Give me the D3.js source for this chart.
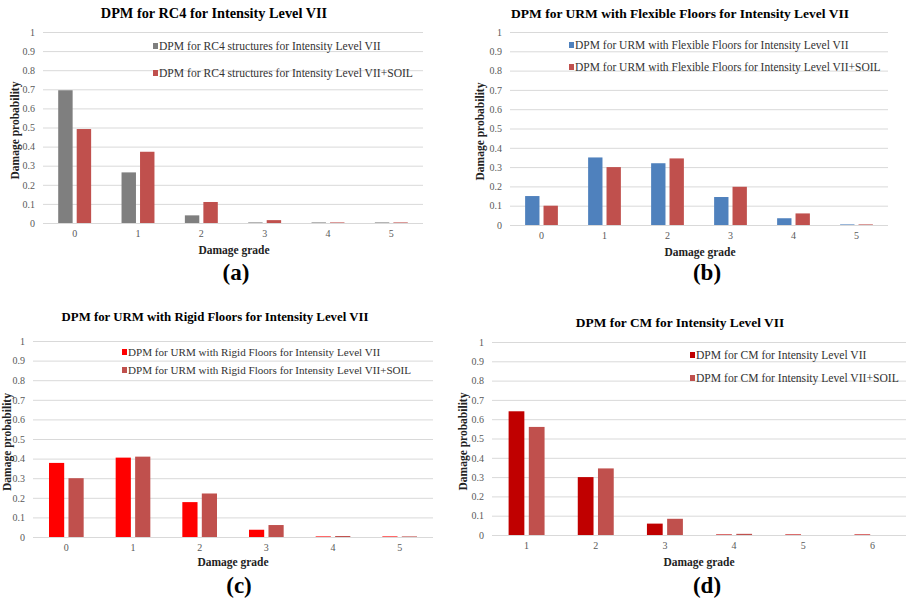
<!DOCTYPE html>
<html>
<head>
<meta charset="utf-8">
<script src="https://cdn.jsdelivr.net/npm/d3@7"></script>
<style>
  body { margin: 0; background: #fff; }
  svg text { font-family: "Liberation Serif", "Times New Roman", serif !important; }
  .grid line { stroke: #d9d9d9; stroke-width: 1; }
  .tick text { fill: #595959; font-size: 10px; }
  .title { font-weight: bold; fill: #000; }
  .axisTitle { font-weight: bold; font-size: 11.5px; fill: #222; }
  .letter { font-weight: bold; font-size: 23px; fill: #000; }
  .legend text { fill: #333; }
</style>
</head>
<body>
<script>
//data
var yTicks = [0, 0.1, 0.2, 0.3, 0.4, 0.5, 0.6, 0.7, 0.8, 0.9, 1];

var gradesA = ["0", "1", "2", "3", "4", "5"];
var rc4 = [0.695, 0.265, 0.04, 0.003, 0.003, 0.003];
var rc4Soil = [0.492, 0.373, 0.11, 0.015, 0.003, 0.003];

var gradesB = ["0", "1", "2", "3", "4", "5"];
var urmFlex = [0.15, 0.35, 0.32, 0.145, 0.035, 0.003];
var urmFlexSoil = [0.10, 0.30, 0.345, 0.198, 0.06, 0.003];

var gradesC = ["0", "1", "2", "3", "4", "5"];
var urmRigid = [0.378, 0.405, 0.178, 0.037, 0.003, 0.003];
var urmRigidSoil = [0.30, 0.41, 0.222, 0.061, 0.005, 0.003];

var gradesD = ["1", "2", "3", "4", "5", "6"];
var cm = [0.641, 0.30, 0.059, 0.003, 0.003, 0.003];
var cmSoil = [0.56, 0.345, 0.084, 0.006, 0, 0];

var panels = [
  {title: "DPM for RC4 for Intensity Level VII", letter: "(a)", grades: gradesA,
   series: [rc4, rc4Soil], colors: ["#7f7f7f", "#c0504d"],
   names: ["DPM for RC4 structures for Intensity Level VII", "DPM for RC4 structures for Intensity Level VII+SOIL"],
   x0: 43, x1: 423, top: 32, bottom: 223, titleX: 214, titleY: 18, titleSize: 14.3,
   yLabX: 15, xTitleX: 234, xTitleY: 254, letterX: 236, letterY: 280,
   legX: 153, legY: [46, 73], legSize: 11.6},
  {title: "DPM for URM with Flexible Floors for Intensity Level VII", letter: "(b)", grades: gradesB,
   series: [urmFlex, urmFlexSoil], colors: ["#4f81bd", "#c0504d"],
   names: ["DPM for URM with Flexible Floors for Intensity Level VII", "DPM for URM with Flexible Floors for Intensity Level VII+SOIL"],
   x0: 510, x1: 888, top: 32, bottom: 225, titleX: 680, titleY: 18, titleSize: 13.5,
   yLabX: 480, xTitleX: 700, xTitleY: 256, letterX: 707, letterY: 280,
   legX: 569, legY: [45, 67], legSize: 11.5},
  {title: "DPM for URM with Rigid Floors for Intensity Level VII", letter: "(c)", grades: gradesC,
   series: [urmRigid, urmRigidSoil], colors: ["#ff0000", "#c0504d"],
   names: ["DPM for URM with Rigid Floors for Intensity Level VII", "DPM for URM with Rigid Floors for Intensity Level VII+SOIL"],
   x0: 33, x1: 433, top: 341, bottom: 537, titleX: 215, titleY: 321, titleSize: 12.8,
   yLabX: 7, xTitleX: 233, xTitleY: 566, letterX: 239, letterY: 593,
   legX: 122, legY: [352, 370], legSize: 11.1},
  {title: "DPM for CM for Intensity Level VII", letter: "(d)", grades: gradesD,
   series: [cm, cmSoil], colors: ["#c00000", "#c0504d"],
   names: ["DPM for CM for Intensity Level VII", "DPM for CM for Intensity Level VII+SOIL"],
   x0: 492, x1: 907, top: 342, bottom: 535, titleX: 680, titleY: 327, titleSize: 13.4,
   yLabX: 463, xTitleX: 699, xTitleY: 566, letterX: 707, letterY: 593,
   legX: 690, legY: [355, 378], legSize: 11.6}
];

var svg = d3.select("body").append("svg")
    .attr("width", 906)
    .attr("height", 601);

panels.forEach(drawPanel);

function drawPanel(p){
    var g = svg.append("g");
    var x = d3.scaleBand()
        .domain(p.grades)
        .range([p.x0, p.x1]);
    var step = x.bandwidth();
    //two bars side by side inside each grade band
    var xs = d3.scaleBand()
        .domain([0, 1])
        .range([step * 0.24, step * 0.76])
        .paddingInner(0.22);
    var y = d3.scaleLinear()
        .domain([0, 1])
        .range([p.bottom, p.top]);

    //gridlines + y tick labels
    var yAxis = g.append("g")
        .attr("class", "grid")
        .attr("transform", "translate(" + p.x0 + ",0)")
        .call(d3.axisLeft(y).tickValues(yTicks).tickSize(-(p.x1 - p.x0)).tickPadding(8)
            .tickFormat(function(d){ return d3.format("")(d); }));
    yAxis.select(".domain").remove();

    //x tick labels
    var xAxis = g.append("g")
        .attr("transform", "translate(0," + p.bottom + ")")
        .call(d3.axisBottom(x).tickSize(0).tickPadding(7));
    xAxis.select(".domain").remove();

    //bars
    p.series.forEach(function(vals, s){
        g.selectAll(".bar" + s)
            .data(vals)
            .enter()
            .append("rect")
            .attr("x", function(d, i){ return x(p.grades[i]) + xs(s); })
            .attr("width", xs.bandwidth())
            .attr("y", function(d){ return y(d); })
            .attr("height", function(d){ return p.bottom - y(d); })
            .style("fill", p.colors[s]);
    });

    //legend
    var leg = g.append("g").attr("class", "legend");
    p.names.forEach(function(n, s){
        leg.append("rect")
            .attr("x", p.legX)
            .attr("y", p.legY[s] - 3)
            .attr("width", 5)
            .attr("height", 6)
            .style("fill", p.colors[s]);
        leg.append("text")
            .attr("x", p.legX + 6)
            .attr("y", p.legY[s] + 4)
            .style("font-size", p.legSize + "px")
            .text(n);
    });

    g.append("text")
        .attr("class", "title")
        .attr("x", p.titleX)
        .attr("y", p.titleY)
        .attr("text-anchor", "middle")
        .style("font-size", p.titleSize + "px")
        .text(p.title);
    g.append("text")
        .attr("class", "axisTitle")
        .attr("x", p.xTitleX)
        .attr("y", p.xTitleY)
        .attr("text-anchor", "middle")
        .text("Damage grade");
    g.append("text")
        .attr("class", "letter")
        .attr("x", p.letterX)
        .attr("y", p.letterY)
        .attr("text-anchor", "middle")
        .text(p.letter);
    g.append("text")
        .attr("class", "axisTitle")
        .attr("transform", "translate(" + (p.yLabX + 4) + "," + ((p.top + p.bottom) / 2 + 3) + ") rotate(-90)")
        .attr("text-anchor", "middle")
        .text("Damage probability");
}
</script>
</body>
</html>
